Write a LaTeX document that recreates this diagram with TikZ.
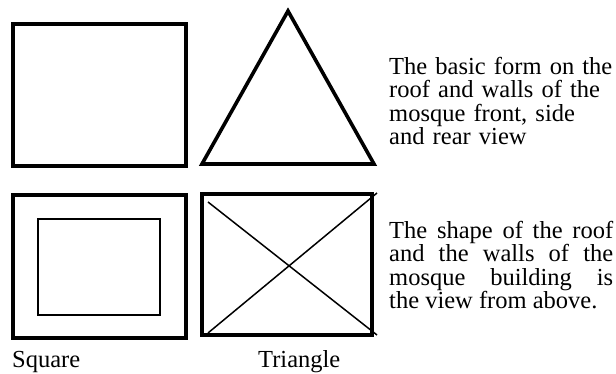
\documentclass[tikz,border=0pt]{standalone}
\usepackage{fontspec}
\setmainfont{Liberation Serif}
\begin{document}
\begin{tikzpicture}[x=1pt,y=1pt,line join=miter,line cap=rect,
		thickbox/.style={line width=3.6pt},
		innerbox/.style={line width=2.3pt},
		crossline/.style={line width=1.5pt,line cap=butt},
		caption/.style={anchor=base west,inner sep=0pt,font=\fontsize{24.5}{23.5}\selectfont},
		notes/.style={anchor=north west,inner sep=0pt,text width=224pt,font=\fontsize{24.5}{23.5}\selectfont}]
				\useasboundingbox (0,0) rectangle (616,374);
				
				% front, side and rear view
				\draw[thickbox] (13,208) rectangle (186,350);
				\draw[thickbox] (202,210) -- (288,363) -- (374,210) -- cycle;
				
				% view from above
				\draw[thickbox] (13,36) rectangle (186,179);
				\draw[innerbox] (38,59) rectangle (160,155);
				
				\draw[thickbox] (202,39) rectangle (372,180);
				\coordinate (TL) at (208,172);
				\coordinate (BL) at (208,41);
				\coordinate (TR) at (377,181);
				\coordinate (BR) at (377,39);
				\draw[crossline] (TL) -- (BR);
				\draw[crossline] (BL) -- (TR);
				
				\node[caption] (sq) at (12,6) {Square};
				\node[caption] (tri) at (258,6) {Triangle};
				
				\node[notes,align=left] (side) at (389,317) {The basic form on the\\ roof and walls of the\\ mosque front, side\\ and rear view};
				\node[notes,align=justify] (top) at (389,153) {The shape of the roof\linebreak and the walls of the\linebreak mosque building is\linebreak the view from above.};
			\end{tikzpicture}
\end{document}
